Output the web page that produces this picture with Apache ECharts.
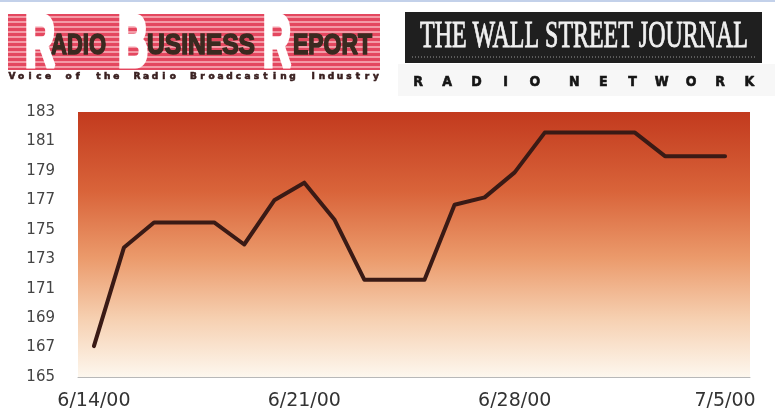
<!DOCTYPE html>
<html>
<head>
<meta charset="utf-8">
<script src="https://cdn.jsdelivr.net/npm/echarts@6/dist/echarts.min.js"></script>
<style>
html,body{margin:0;padding:0;background:#fff;}
#chart{width:775px;height:411px;}
</style>
</head>
<body>
<div id="chart"></div>
<script>
// ---- data ----
const dayIndex = [0,1,2,3,4,5,6,7,8,9,10,11,12,13,14,15,16,17,18,19,20,21];
const values = [167.1,173.8,175.5,175.5,175.5,174.0,177.0,178.2,175.7,171.6,171.6,171.6,176.7,177.2,178.9,181.6,181.6,181.6,181.6,180.0,180.0,180.0];
const xTickIndex = [0,7,14,21];
const xTickLabels = ['6/14/00','6/21/00','6/28/00','7/5/00'];
const yTicks = [165,167,169,171,173,175,177,179,181,183];

const rbrWords = ['ADIO','USINESS','EPORT'];
const rbrInitials = ['R','B','R'];
const rbrTagline = 'Voice of the Radio Broadcasting Industry';
const wsjTitle = 'THE WALL STREET JOURNAL';
const wsjSub = 'RADIO NETWORK';

// ---- helpers ----
const mctx = document.createElement('canvas').getContext('2d');
function measure(text, font){ mctx.font = font; return mctx.measureText(text).width; }
function fitText(text, font, left, cy, width, fill, extra){
  const w = measure(text, font);
  return {
    type:'text', x:left, y:cy, scaleX: width / w, originX:0, originY:0,
    style: Object.assign({text:text, font:font, fill:fill, textAlign:'left', textVerticalAlign:'middle'}, extra||{}),
    z: 10
  };
}

const graphics = [];
graphics.push({type:'rect', shape:{x:0,y:0,width:775,height:2}, style:{fill:'#c3d1ea'}, z:1});
graphics.push({type:'rect', shape:{x:398,y:64,width:377,height:32}, style:{fill:'#f7f7f7'}, z:1});

// RBR logo box with stripes
graphics.push({type:'rect', shape:{x:8,y:14,width:372,height:56}, style:{fill:'#e4475f'}, z:2});
for (let yy = 16; yy < 69; yy += 5) {
  graphics.push({type:'rect', shape:{x:8,y:yy,width:372,height:2}, style:{fill:'#f39aa6'}, z:3});
}
const wordFont = 'bold 30px "Liberation Sans Narrow", "Liberation Sans", sans-serif';
const wordBoxes = [[51,55],[147,108],[293,79]];
rbrWords.forEach((w,i)=>{
  graphics.push(fitText(w, wordFont, wordBoxes[i][0], 46, wordBoxes[i][1], '#3a2a20',
    {stroke:'#3a2a20', lineWidth:1.6, shadowColor:'rgba(70,90,20,0.7)', shadowBlur:5}));
});
const initFont = 'bold 72px "Liberation Sans", Arial, sans-serif';
const initBoxes = [[25,30],[118,30],[263,28]];
rbrInitials.forEach((c,i)=>{
  graphics.push(fitText(c, initFont, initBoxes[i][0], 46, initBoxes[i][1], '#ffffff',
    {stroke:'#ffffff', lineWidth:5, shadowColor:'rgba(180,30,60,0.45)', shadowBlur:3}));
});
(function(){
  const words = rbrTagline.split(' ');
  let slots = 0; words.forEach(w=>slots += w.length); slots = slots - 1 + (words.length-1)*1.3;
  const step = (376 - 12) / slots;
  let x = 12;
  words.forEach((w)=>{
    for (const ch of w) {
      graphics.push({type:'text', x:x, y:77, style:{text:ch, font:'bold 9px "DejaVu Sans", sans-serif', fill:'#3a2020', stroke:'#3a2020', lineWidth:0.6, textAlign:'center', textVerticalAlign:'middle'}, z:10});
      x += step;
    }
    x += step*1.3;
  });
})();

// WSJ box
graphics.push({type:'rect', shape:{x:405,y:12,width:357,height:51}, style:{fill:'#1f1f1f'}, z:2});
graphics.push(fitText(wsjTitle, '38px "Liberation Serif", "DejaVu Serif", serif', 420, 37, 328, '#f0f0f0',
  {stroke:'#f0f0f0', lineWidth:0.9}));
graphics.push({type:'line', shape:{x1:412,y1:57,x2:755,y2:57}, style:{stroke:'#9a9a9a', lineWidth:1, lineDash:[1,2]}, z:3});
(function(){
  const words = wsjSub.split(' ');
  const step = 29.2;
  let x = 418;
  words.forEach((w)=>{
    for (const ch of w) {
      graphics.push({type:'text', x:x, y:82, style:{text:ch, font:'bold 14px "DejaVu Sans Condensed", "DejaVu Sans", sans-serif', fill:'#151515', stroke:'#151515', lineWidth:0.6, textAlign:'center', textVerticalAlign:'middle'}, z:10});
      x += step;
    }
    x += step*0.35;
  });
})();

const chart = echarts.init(document.getElementById('chart'), null, {renderer:'canvas'});
chart.setOption({
  animation:false,
  backgroundColor:'#ffffff',
  grid:{
    left:78, right:25, top:112, bottom:33, show:true, borderWidth:0,
    backgroundColor:{type:'linear', x:0, y:0, x2:0, y2:1, colorStops:[
      {offset:0, color:'#c23a1e'},
      {offset:0.3, color:'#d9643a'},
      {offset:0.55, color:'#eb9a6b'},
      {offset:0.78, color:'#f6d0b1'},
      {offset:1, color:'#fdf7ee'}
    ]}
  },
  xAxis:{
    type:'value', min:-0.53, max:21.83,
    axisLine:{show:true, lineStyle:{color:'#b8b8b8', width:1}},
    axisTick:{show:false},
    splitLine:{show:false},
    axisLabel:{
      customValues: xTickIndex,
      formatter: function(v){ const k = xTickIndex.indexOf(Math.round(v)); return k >= 0 ? xTickLabels[k] : ''; },
      fontFamily:'"DejaVu Sans", sans-serif', fontSize:19, color:'#333333', margin:15
    }
  },
  yAxis:{
    type:'value', min:yTicks[0], max:yTicks[yTicks.length-1], interval:2,
    axisLine:{show:false}, axisTick:{show:false}, splitLine:{show:false},
    axisLabel:{fontFamily:'"DejaVu Sans", sans-serif', fontSize:15, color:'#444444', margin:23}
  },
  series:[{
    type:'line',
    data: dayIndex.map((d,i)=>[d, values[i]]),
    showSymbol:false,
    lineStyle:{color:'#3a1a15', width:4, cap:'round', join:'round'}
  }],
  graphic: graphics
});
</script>
</body>
</html>
